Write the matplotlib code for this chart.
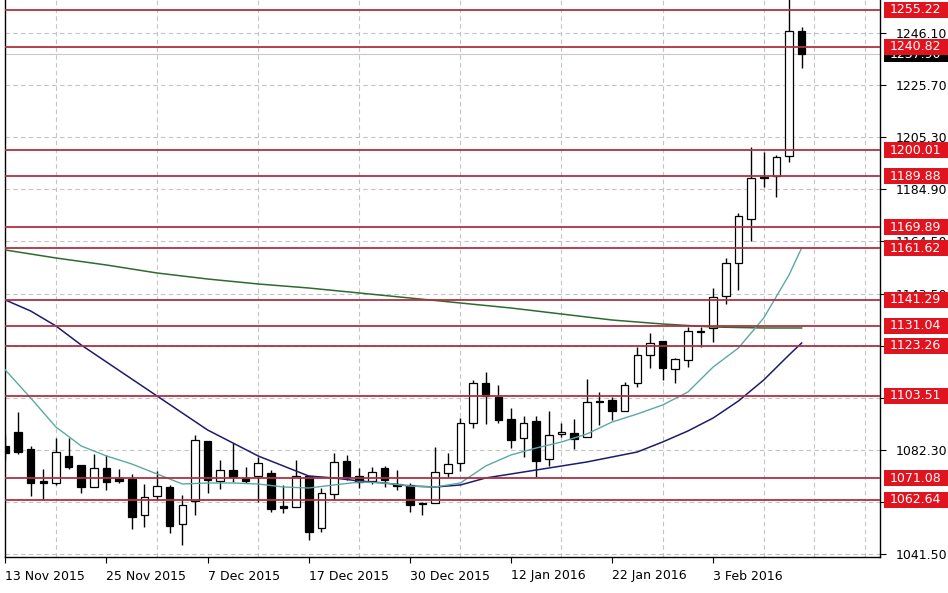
import matplotlib
matplotlib.use("Agg")
import matplotlib.pyplot as plt
from matplotlib.patches import Rectangle

# ---- data ----
date_labels = ["13 Nov 2015", "25 Nov 2015", "7 Dec 2015", "17 Dec 2015",
               "30 Dec 2015", "12 Jan 2016", "22 Jan 2016", "3 Feb 2016"]
date_label_bars = [0, 8, 16, 24, 32, 40, 48, 56]

opens = [1083.83, 1089.34, 1082.66, 1070.08, 1069.29, 1079.91, 1076.37, 1067.72, 1075.19, 1071.26,
         1070.86, 1056.71, 1064.18, 1067.72, 1053.18, 1062.22, 1085.80, 1070.08, 1074.40, 1071.26,
         1072.04, 1073.22, 1060.25, 1059.86, 1072.04, 1051.60, 1064.97, 1077.94, 1072.04, 1070.08,
         1075.19, 1068.90, 1068.51, 1061.43, 1061.43, 1073.22, 1077.15, 1092.88, 1108.60, 1103.10,
         1094.45, 1086.98, 1093.66, 1078.73, 1088.55, 1088.95, 1087.37, 1101.52, 1101.92, 1097.59,
         1108.60, 1119.61, 1125.11, 1114.10, 1117.64, 1129.04, 1130.22, 1142.80, 1155.77, 1173.07,
         1189.57, 1189.97, 1197.83, 1246.96]
highs = [1088.16, 1097.20, 1083.83, 1074.80, 1086.98, 1086.98, 1076.37, 1080.69, 1080.30, 1074.80,
         1072.83, 1068.90, 1074.01, 1068.51, 1064.57, 1088.16, 1085.80, 1078.33, 1085.02, 1075.58,
         1079.51, 1074.40, 1068.51, 1078.33, 1072.04, 1067.33, 1081.08, 1080.30, 1075.19, 1075.58,
         1075.97, 1074.40, 1069.29, 1061.82, 1083.44, 1081.08, 1094.84, 1109.78, 1112.92, 1107.81,
         1098.77, 1095.63, 1095.63, 1097.59, 1092.88, 1094.45, 1110.17, 1105.06, 1103.10, 1108.99,
         1122.75, 1128.25, 1125.11, 1118.43, 1130.61, 1130.61, 1145.94, 1157.74, 1175.42, 1201.37,
         1199.40, 1198.22, 1262.00, 1248.54]
lows = [1078.33, 1080.69, 1064.18, 1062.61, 1068.51, 1074.80, 1065.36, 1067.72, 1066.54, 1069.29,
        1051.21, 1052.00, 1062.61, 1049.64, 1044.92, 1056.71, 1065.36, 1066.93, 1069.69, 1069.29,
        1061.82, 1057.89, 1057.50, 1059.86, 1046.89, 1050.03, 1062.61, 1070.47, 1067.33, 1068.90,
        1067.72, 1066.54, 1057.89, 1056.71, 1061.43, 1071.65, 1074.01, 1090.91, 1092.48, 1092.88,
        1083.05, 1079.51, 1071.65, 1075.97, 1087.37, 1082.66, 1087.37, 1092.09, 1094.06, 1097.59,
        1107.03, 1114.50, 1109.78, 1108.60, 1114.89, 1122.75, 1124.72, 1139.65, 1145.16, 1164.42,
        1185.64, 1181.71, 1195.47, 1232.42]
closes = [1081.08, 1081.48, 1069.29, 1069.29, 1081.48, 1075.58, 1067.72, 1075.19, 1069.69, 1070.08,
          1055.93, 1063.79, 1068.11, 1052.39, 1060.64, 1086.19, 1070.47, 1074.40, 1071.65, 1070.08,
          1077.15, 1059.07, 1059.47, 1072.04, 1050.03, 1065.36, 1077.55, 1071.65, 1069.69, 1073.62,
          1070.47, 1068.11, 1060.64, 1061.04, 1073.62, 1076.76, 1092.88, 1108.60, 1103.49, 1094.06,
          1086.19, 1092.88, 1077.94, 1088.16, 1089.34, 1086.59, 1101.13, 1101.13, 1097.59, 1107.81,
          1119.61, 1124.32, 1114.50, 1118.03, 1129.04, 1128.65, 1142.41, 1155.77, 1174.24, 1189.18,
          1189.18, 1197.44, 1246.96, 1237.90]

ma_fast_bars = list(range(0, 63, 2)) + [63]
ma_fast = [1113.71, 1102.70, 1091.30, 1083.84, 1079.91, 1076.76, 1072.83, 1068.90, 1069.29, 1069.29,
           1068.90, 1067.72, 1067.33, 1068.51, 1069.69, 1069.29, 1068.11, 1067.72, 1069.29, 1075.97,
           1080.30, 1083.05, 1085.41, 1088.55, 1093.27, 1096.42, 1099.95, 1105.06, 1114.89, 1122.36,
           1134.15, 1151.05, 1161.67]
ma_mid_bars = list(range(0, 63, 2)) + [63]
ma_mid = [1141.23, 1136.90, 1131.01, 1123.54, 1116.85, 1110.17, 1103.49, 1096.81, 1090.13, 1085.02,
          1079.91, 1075.97, 1072.04, 1071.26, 1070.08, 1069.29, 1068.11, 1067.72, 1068.51, 1071.26,
          1072.83, 1074.40, 1075.97, 1077.55, 1079.51, 1081.48, 1085.41, 1089.73, 1094.84, 1101.52,
          1109.78, 1119.61, 1124.32]
ma_slow_bars = list(range(0, 63, 4)) + [63]
ma_slow = [1160.88, 1157.74, 1154.98, 1151.84, 1149.48, 1147.52, 1145.94, 1143.98, 1142.01, 1140.05,
           1138.08, 1135.72, 1133.36, 1131.79, 1130.61, 1130.22, 1130.22]

levels = [1255.22, 1240.82, 1200.01, 1189.88, 1169.89, 1161.62, 1141.29, 1131.04,
          1123.26, 1103.51, 1071.08, 1062.64]
price_ticks = [1246.10, 1225.70, 1205.30, 1184.90, 1164.50, 1143.50, 1123.10,
               1102.70, 1082.30, 1061.90, 1041.50]
# tick labels fully hidden behind level boxes in the reference are left blank
price_tick_labels = ["1246.10", "1225.70", "1205.30", "1184.90", "1164.50", "1143.50", "",
                     "", "1082.30", "", "1041.50"]
bid_price = 1237.90

# ---- figure ----
W, H = 948, 593
fig = plt.figure(figsize=(W / 100, H / 100), dpi=100)
fig.patch.set_facecolor("white")
ax = fig.add_axes([5 / W, 36 / H, 875 / W, 557 / H])
ax.set_facecolor("white")

ax.set_xlim(-0.03, 69.2)
ax.set_ylim(1040.20, 1259.15)

grid_kw = dict(color="#c4c4c4", linestyle=(0, (4, 3)), linewidth=0.8)
ax.set_xticks(range(0, 70, 4), minor=True)
ax.grid(True, axis="x", which="minor", **grid_kw)
ax.grid(True, axis="y", which="major", **grid_kw)
ax.set_axisbelow(True)

# bid line
ax.axhline(bid_price, color="#c8c8c8", linewidth=0.8, zorder=1)

# candles
n = len(opens)
xs = list(range(n))
ax.vlines(xs, lows, highs, color="black", linewidth=1.0, zorder=3)
for i in xs:
    o, c = opens[i], closes[i]
    bottom = min(o, c)
    h = abs(c - o)
    if h < 0.5:
        h = 0.5
        bottom = (o + c) / 2 - 0.25
    fc = "white" if c >= o else "black"
    ax.add_patch(Rectangle((i - 0.3, bottom), 0.6, h, facecolor=fc,
                           edgecolor="black", linewidth=0.9, zorder=4))

# moving averages
ax.plot(ma_slow_bars, ma_slow, color="#2f6a2f", linewidth=1.1, zorder=5)
ax.plot(ma_mid_bars, ma_mid, color="#1c1c6e", linewidth=1.1, zorder=5)
ax.plot(ma_fast_bars, ma_fast, color="#5aaaa2", linewidth=1.0, zorder=5)

# horizontal levels
for v in levels:
    ax.axhline(v, color="#b03040", linewidth=1.3, zorder=6)

# axes styling
for s in ["left", "bottom", "right"]:
    ax.spines[s].set_color("black")
    ax.spines[s].set_linewidth(1.0)
ax.spines["top"].set_visible(False)

ax.yaxis.tick_right()
ax.set_yticks(price_ticks)
ax.set_yticklabels(price_tick_labels)
ax.tick_params(axis="y", which="major", direction="out", length=4, pad=7,
               labelsize=9, colors="black")
ax.set_xticks(date_label_bars)
ax.set_xticklabels(date_labels)
ax.tick_params(axis="x", which="major", direction="out", length=4, pad=5,
               labelsize=9, colors="black")
ax.tick_params(axis="x", which="minor", length=0)
for lab in ax.get_xticklabels():
    lab.set_horizontalalignment("left")

# price label boxes on the right axis
ytr = ax.get_yaxis_transform()
px_per_unit = 557 / (1259.15 - 1040.20)
box_h = 16 / px_per_unit
box_x0 = (884 - 5) / 875
box_w = (948 - 884) / 875
text_x = (890 - 5) / 875


def price_box(v, fc, z):
    ax.add_patch(Rectangle((box_x0, v - box_h / 2), box_w, box_h, transform=ytr,
                           facecolor=fc, edgecolor="none", clip_on=False, zorder=z))
    ax.text(text_x, v, f"{v:.2f}", transform=ytr, ha="left", va="center",
            color="white", fontsize=9, clip_on=False, zorder=z + 0.5)


price_box(bid_price, "black", 10)
for v in levels:
    price_box(v, "#e0141e", 12)

fig.savefig("out.png", dpi=100, facecolor="white")
